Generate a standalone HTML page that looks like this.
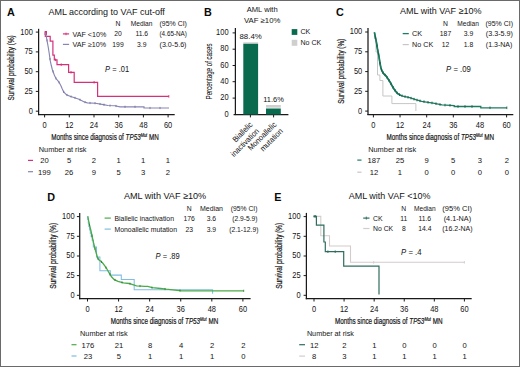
<!DOCTYPE html>
<html><head><meta charset="utf-8"><title>Figure</title>
<style>
html,body{margin:0;padding:0;background:#fff;overflow:hidden;}
svg{display:block;}
text{font-family:"Liberation Sans", sans-serif;stroke:#141414;stroke-width:0.0px;}
</style></head>
<body>
<svg fill="#141414" width="520" height="367" viewBox="0 0 520 367">
<rect x="0" y="0" width="520" height="367" fill="#fff"/>
<text x="6.90" y="16.00" font-size="10.8" font-weight="bold" fill="#0a0a0a">A</text>
<text x="48.40" y="14.60" font-size="9.2" textLength="116.40" lengthAdjust="spacingAndGlyphs">AML according to VAF cut-off</text>
<text x="118.00" y="25.95" font-size="7.0" text-anchor="middle" textLength="4.90" lengthAdjust="spacingAndGlyphs">N</text>
<text x="130.75" y="25.95" font-size="7.0" textLength="21.75" lengthAdjust="spacingAndGlyphs">Median</text>
<text x="159.50" y="25.95" font-size="7.0" textLength="27.40" lengthAdjust="spacingAndGlyphs">(95% CI)</text>
<line x1="62.90" y1="33.90" x2="69.10" y2="33.90" stroke="#d4317a" stroke-width="1.2" />
<line x1="66.00" y1="32.60" x2="66.00" y2="35.20" stroke="#d4317a" stroke-width="0.9" />
<text x="72.50" y="36.60" font-size="7.0" textLength="33.75" lengthAdjust="spacingAndGlyphs">VAF &lt;10%</text>
<text x="118.00" y="36.45" font-size="7.0" text-anchor="middle" textLength="7.55" lengthAdjust="spacingAndGlyphs">20</text>
<text x="141.75" y="36.45" font-size="7.0" text-anchor="middle" textLength="12.71" lengthAdjust="spacingAndGlyphs">11.6</text>
<text x="159.50" y="36.45" font-size="7.0" textLength="27.40" lengthAdjust="spacingAndGlyphs">(4.65-NA)</text>
<line x1="62.90" y1="44.40" x2="69.10" y2="44.40" stroke="#8785b2" stroke-width="1.2" />
<text x="72.50" y="47.10" font-size="7.0" textLength="33.75" lengthAdjust="spacingAndGlyphs">VAF ≥10%</text>
<text x="118.00" y="46.95" font-size="7.0" text-anchor="middle" textLength="11.33" lengthAdjust="spacingAndGlyphs">199</text>
<text x="141.75" y="46.95" font-size="7.0" text-anchor="middle" textLength="9.44" lengthAdjust="spacingAndGlyphs">3.9</text>
<text x="159.50" y="46.95" font-size="7.0" textLength="27.00" lengthAdjust="spacingAndGlyphs">(3.0-5.6)</text>
<text transform="translate(11.20,67.90) rotate(-90)" x="0" y="3.10" font-size="8.6" text-anchor="middle" textLength="65.30" lengthAdjust="spacingAndGlyphs" style="stroke-width:0.2px">Survival probability (%)</text>
<line x1="38.60" y1="28.80" x2="38.60" y2="115.12" stroke="#1a1a1a" stroke-width="1.25" />
<line x1="37.98" y1="114.50" x2="174.70" y2="114.50" stroke="#1a1a1a" stroke-width="1.25" />
<line x1="35.80" y1="32.10" x2="38.60" y2="32.10" stroke="#1a1a1a" stroke-width="1.0" />
<text x="32.80" y="34.50" font-size="8.5" text-anchor="end" textLength="12.48" lengthAdjust="spacingAndGlyphs">100</text>
<line x1="35.80" y1="51.90" x2="38.60" y2="51.90" stroke="#1a1a1a" stroke-width="1.0" />
<text x="32.80" y="54.30" font-size="8.5" text-anchor="end" textLength="8.32" lengthAdjust="spacingAndGlyphs">75</text>
<line x1="35.80" y1="71.70" x2="38.60" y2="71.70" stroke="#1a1a1a" stroke-width="1.0" />
<text x="32.80" y="74.10" font-size="8.5" text-anchor="end" textLength="8.32" lengthAdjust="spacingAndGlyphs">50</text>
<line x1="35.80" y1="91.40" x2="38.60" y2="91.40" stroke="#1a1a1a" stroke-width="1.0" />
<text x="32.80" y="93.80" font-size="8.5" text-anchor="end" textLength="8.32" lengthAdjust="spacingAndGlyphs">25</text>
<line x1="35.80" y1="111.20" x2="38.60" y2="111.20" stroke="#1a1a1a" stroke-width="1.0" />
<text x="32.80" y="113.60" font-size="8.5" text-anchor="end" textLength="4.16" lengthAdjust="spacingAndGlyphs">0</text>
<line x1="44.60" y1="114.50" x2="44.60" y2="117.40" stroke="#1a1a1a" stroke-width="1.0" />
<text x="44.60" y="127.70" font-size="8.5" text-anchor="middle" textLength="4.16" lengthAdjust="spacingAndGlyphs">0</text>
<line x1="69.30" y1="114.50" x2="69.30" y2="117.40" stroke="#1a1a1a" stroke-width="1.0" />
<text x="69.30" y="127.70" font-size="8.5" text-anchor="middle" textLength="8.32" lengthAdjust="spacingAndGlyphs">12</text>
<line x1="94.00" y1="114.50" x2="94.00" y2="117.40" stroke="#1a1a1a" stroke-width="1.0" />
<text x="94.00" y="127.70" font-size="8.5" text-anchor="middle" textLength="8.32" lengthAdjust="spacingAndGlyphs">24</text>
<line x1="118.70" y1="114.50" x2="118.70" y2="117.40" stroke="#1a1a1a" stroke-width="1.0" />
<text x="118.70" y="127.70" font-size="8.5" text-anchor="middle" textLength="8.32" lengthAdjust="spacingAndGlyphs">36</text>
<line x1="143.40" y1="114.50" x2="143.40" y2="117.40" stroke="#1a1a1a" stroke-width="1.0" />
<text x="143.40" y="127.70" font-size="8.5" text-anchor="middle" textLength="8.32" lengthAdjust="spacingAndGlyphs">48</text>
<line x1="168.10" y1="114.50" x2="168.10" y2="117.40" stroke="#1a1a1a" stroke-width="1.0" />
<text x="168.10" y="127.70" font-size="8.5" text-anchor="middle" textLength="8.32" lengthAdjust="spacingAndGlyphs">60</text>
<text x="51.25" y="140.00" font-size="8.6" textLength="107.50" lengthAdjust="spacingAndGlyphs" style="stroke-width:0.2px">Months since diagnosis of <tspan font-style="italic">TP53</tspan><tspan font-style="italic" font-size="5.33" dy="-3.2">Mut</tspan><tspan dy="3.2"> MN</tspan></text>
<text x="105.10" y="71.80" font-size="8.5" textLength="24.00" lengthAdjust="spacingAndGlyphs"><tspan font-style="italic">P</tspan> = .01</text>
<path d="M45.3,32.2 V36.4 H50.2 V41.2 H52.9 V55.2 H54.3 V59.8 H57 V64.7 H68.6 V72.3 H74.2 V82.3 H97.6 V96.4 H168.8" fill="none" stroke="#d4317a" stroke-width="1.2" />
<rect x="44.60" y="31.00" width="2.40" height="4.00" fill="#d4317a"/>
<path d="M45.50,32.50 L46.20,36.00 L47.20,41.50 L48.30,47.50 L49.30,54.00 L50.20,60.50 L51.30,65.50 L52.30,69.50 L53.40,72.50 L54.50,75.60 L56.00,78.50 L58.40,81.30 L60.00,84.00 L60.80,85.50 L62.30,89.00 L63.70,91.90 L66.50,94.80 L70.00,96.20 L74.60,97.70 L79.00,99.30 L83.80,101.70 L87.30,102.90 L95.40,103.20 L103.40,104.60 L108.00,105.50 L115.00,105.80 L120.00,106.80 L144.00,106.80 L144.00,108.00 L169.00,108.00" fill="none" stroke="#8785b2" stroke-width="1.15" />
<line x1="47.00" y1="39.30" x2="47.00" y2="41.50" stroke="#6e6c9c" stroke-width="0.8" />
<line x1="50.00" y1="57.96" x2="50.00" y2="60.16" stroke="#6e6c9c" stroke-width="0.8" />
<line x1="53.00" y1="70.31" x2="53.00" y2="72.51" stroke="#6e6c9c" stroke-width="0.8" />
<line x1="56.00" y1="77.40" x2="56.00" y2="79.60" stroke="#6e6c9c" stroke-width="0.8" />
<line x1="59.00" y1="81.21" x2="59.00" y2="83.41" stroke="#6e6c9c" stroke-width="0.8" />
<line x1="63.70" y1="90.80" x2="63.70" y2="93.00" stroke="#6e6c9c" stroke-width="0.8" />
<line x1="67.00" y1="93.90" x2="67.00" y2="96.10" stroke="#6e6c9c" stroke-width="0.8" />
<line x1="71.00" y1="95.43" x2="71.00" y2="97.63" stroke="#6e6c9c" stroke-width="0.8" />
<line x1="75.00" y1="96.75" x2="75.00" y2="98.95" stroke="#6e6c9c" stroke-width="0.8" />
<line x1="80.00" y1="98.70" x2="80.00" y2="100.90" stroke="#6e6c9c" stroke-width="0.8" />
<line x1="85.00" y1="101.01" x2="85.00" y2="103.21" stroke="#6e6c9c" stroke-width="0.8" />
<line x1="90.00" y1="101.90" x2="90.00" y2="104.10" stroke="#6e6c9c" stroke-width="0.8" />
<line x1="95.00" y1="102.09" x2="95.00" y2="104.29" stroke="#6e6c9c" stroke-width="0.8" />
<line x1="100.00" y1="102.91" x2="100.00" y2="105.10" stroke="#6e6c9c" stroke-width="0.8" />
<line x1="104.00" y1="103.62" x2="104.00" y2="105.82" stroke="#6e6c9c" stroke-width="0.8" />
<line x1="110.00" y1="104.49" x2="110.00" y2="106.69" stroke="#6e6c9c" stroke-width="0.8" />
<line x1="116.00" y1="104.90" x2="116.00" y2="107.10" stroke="#6e6c9c" stroke-width="0.8" />
<line x1="125.00" y1="105.70" x2="125.00" y2="107.90" stroke="#6e6c9c" stroke-width="0.8" />
<line x1="135.00" y1="105.70" x2="135.00" y2="107.90" stroke="#6e6c9c" stroke-width="0.8" />
<line x1="150.00" y1="106.90" x2="150.00" y2="109.10" stroke="#6e6c9c" stroke-width="0.8" />
<line x1="160.00" y1="106.90" x2="160.00" y2="109.10" stroke="#6e6c9c" stroke-width="0.8" />
<line x1="61.20" y1="63.40" x2="61.20" y2="66.00" stroke="#d4317a" stroke-width="0.9" />
<line x1="71.00" y1="71.00" x2="71.00" y2="73.60" stroke="#d4317a" stroke-width="0.9" />
<line x1="94.10" y1="81.00" x2="94.10" y2="83.60" stroke="#d4317a" stroke-width="0.9" />
<line x1="168.80" y1="95.10" x2="168.80" y2="97.70" stroke="#d4317a" stroke-width="0.9" />
<line x1="55.50" y1="58.50" x2="55.50" y2="61.10" stroke="#d4317a" stroke-width="0.9" />
<text x="38.80" y="151.90" font-size="7.4" textLength="47.70" lengthAdjust="spacingAndGlyphs">Number at risk</text>
<line x1="28.00" y1="160.40" x2="33.00" y2="160.40" stroke="#d4317a" stroke-width="1.2" />
<text x="44.40" y="163.20" font-size="7.8" text-anchor="middle" textLength="8.50" lengthAdjust="spacingAndGlyphs">20</text>
<text x="69.10" y="163.20" font-size="7.8" text-anchor="middle" textLength="4.25" lengthAdjust="spacingAndGlyphs">5</text>
<text x="93.80" y="163.20" font-size="7.8" text-anchor="middle" textLength="4.25" lengthAdjust="spacingAndGlyphs">2</text>
<text x="118.50" y="163.20" font-size="7.8" text-anchor="middle" textLength="4.25" lengthAdjust="spacingAndGlyphs">1</text>
<text x="143.20" y="163.20" font-size="7.8" text-anchor="middle" textLength="4.25" lengthAdjust="spacingAndGlyphs">1</text>
<text x="167.90" y="163.20" font-size="7.8" text-anchor="middle" textLength="4.25" lengthAdjust="spacingAndGlyphs">1</text>
<line x1="28.00" y1="171.70" x2="33.00" y2="171.70" stroke="#8785b2" stroke-width="1.2" />
<text x="44.40" y="174.50" font-size="7.8" text-anchor="middle" textLength="12.75" lengthAdjust="spacingAndGlyphs">199</text>
<text x="69.10" y="174.50" font-size="7.8" text-anchor="middle" textLength="8.50" lengthAdjust="spacingAndGlyphs">26</text>
<text x="93.80" y="174.50" font-size="7.8" text-anchor="middle" textLength="4.25" lengthAdjust="spacingAndGlyphs">9</text>
<text x="118.50" y="174.50" font-size="7.8" text-anchor="middle" textLength="4.25" lengthAdjust="spacingAndGlyphs">5</text>
<text x="143.20" y="174.50" font-size="7.8" text-anchor="middle" textLength="4.25" lengthAdjust="spacingAndGlyphs">3</text>
<text x="167.90" y="174.50" font-size="7.8" text-anchor="middle" textLength="4.25" lengthAdjust="spacingAndGlyphs">2</text>
<text x="204.00" y="16.10" font-size="10.8" font-weight="bold" fill="#0a0a0a">B</text>
<text x="246.70" y="12.40" font-size="7.6" textLength="31.00" lengthAdjust="spacingAndGlyphs">AML with</text>
<text x="243.90" y="22.80" font-size="7.6" textLength="36.50" lengthAdjust="spacingAndGlyphs">VAF ≥10%</text>
<text transform="translate(209.00,71.40) rotate(-90)" x="0" y="3.10" font-size="8.6" text-anchor="middle" textLength="56.00" lengthAdjust="spacingAndGlyphs" style="stroke-width:0.05px">Percentage of cases</text>
<line x1="235.40" y1="28.00" x2="235.40" y2="115.10" stroke="#1a1a1a" stroke-width="1.25" />
<line x1="233.60" y1="114.50" x2="288.40" y2="114.50" stroke="#1a1a1a" stroke-width="1.25" />
<line x1="232.60" y1="32.90" x2="235.40" y2="32.90" stroke="#1a1a1a" stroke-width="1.0" />
<text x="228.60" y="35.00" font-size="8.5" text-anchor="end" textLength="12.48" lengthAdjust="spacingAndGlyphs">100</text>
<line x1="232.60" y1="49.20" x2="235.40" y2="49.20" stroke="#1a1a1a" stroke-width="1.0" />
<text x="228.60" y="51.30" font-size="8.5" text-anchor="end" textLength="8.32" lengthAdjust="spacingAndGlyphs">80</text>
<line x1="232.60" y1="65.50" x2="235.40" y2="65.50" stroke="#1a1a1a" stroke-width="1.0" />
<text x="228.60" y="67.60" font-size="8.5" text-anchor="end" textLength="8.32" lengthAdjust="spacingAndGlyphs">60</text>
<line x1="232.60" y1="81.70" x2="235.40" y2="81.70" stroke="#1a1a1a" stroke-width="1.0" />
<text x="228.60" y="83.80" font-size="8.5" text-anchor="end" textLength="8.32" lengthAdjust="spacingAndGlyphs">40</text>
<line x1="232.60" y1="98.10" x2="235.40" y2="98.10" stroke="#1a1a1a" stroke-width="1.0" />
<text x="228.60" y="100.20" font-size="8.5" text-anchor="end" textLength="8.32" lengthAdjust="spacingAndGlyphs">20</text>
<text x="228.60" y="116.60" font-size="8.5" text-anchor="end" textLength="4.16" lengthAdjust="spacingAndGlyphs">0</text>
<line x1="250.40" y1="114.50" x2="250.40" y2="117.40" stroke="#1a1a1a" stroke-width="1.0" />
<line x1="273.60" y1="114.50" x2="273.60" y2="117.40" stroke="#1a1a1a" stroke-width="1.0" />
<rect x="243.30" y="42.30" width="14.80" height="1.50" fill="#cfcfcf"/>
<rect x="243.30" y="43.80" width="14.80" height="70.70" fill="#0a6a4d"/>
<rect x="266.00" y="105.00" width="14.80" height="2.70" fill="#cfcfcf"/>
<rect x="266.00" y="108.50" width="14.80" height="6.00" fill="#0a6a4d"/>
<text x="239.50" y="38.80" font-size="7.6" textLength="22.30" lengthAdjust="spacingAndGlyphs">88.4%</text>
<text x="263.20" y="101.80" font-size="7.8" textLength="20.60" lengthAdjust="spacingAndGlyphs">11.6%</text>
<rect x="291.70" y="29.10" width="5.60" height="5.80" fill="#0a6a4d"/>
<text x="300.40" y="34.10" font-size="7.0" textLength="9.90" lengthAdjust="spacingAndGlyphs">CK</text>
<rect x="291.70" y="39.80" width="5.60" height="6.00" fill="#cfcfcf"/>
<text x="300.40" y="44.90" font-size="7.0" textLength="20.80" lengthAdjust="spacingAndGlyphs">No CK</text>
<text transform="translate(253.20,125.10) rotate(-45)" x="0" y="0" font-size="8.0" text-anchor="end" textLength="24.80" lengthAdjust="spacingAndGlyphs">Biallelic</text>
<text transform="translate(259.60,131.60) rotate(-45)" x="0" y="0" font-size="8.0" text-anchor="end" textLength="36.20" lengthAdjust="spacingAndGlyphs">inactivation</text>
<text transform="translate(277.00,125.10) rotate(-45)" x="0" y="0" font-size="8.0" text-anchor="end" textLength="36.80" lengthAdjust="spacingAndGlyphs">Monoallelic</text>
<text transform="translate(283.40,131.60) rotate(-45)" x="0" y="0" font-size="8.0" text-anchor="end" textLength="28.60" lengthAdjust="spacingAndGlyphs">mutation</text>
<text x="336.00" y="15.90" font-size="10.8" font-weight="bold" fill="#0a0a0a">C</text>
<text x="400.00" y="14.30" font-size="9.2" textLength="81.60" lengthAdjust="spacingAndGlyphs">AML with VAF ≥10%</text>
<text x="445.50" y="25.90" font-size="7.0" text-anchor="middle" textLength="4.90" lengthAdjust="spacingAndGlyphs">N</text>
<text x="457.20" y="25.90" font-size="7.0" textLength="21.70" lengthAdjust="spacingAndGlyphs">Median</text>
<text x="485.40" y="25.90" font-size="7.0" textLength="27.70" lengthAdjust="spacingAndGlyphs">(95% CI)</text>
<line x1="402.70" y1="33.60" x2="408.80" y2="33.60" stroke="#1f7a62" stroke-width="1.3" />
<text x="412.10" y="36.00" font-size="7.0" textLength="10.10" lengthAdjust="spacingAndGlyphs">CK</text>
<text x="445.50" y="35.80" font-size="7.0" text-anchor="middle" textLength="11.33" lengthAdjust="spacingAndGlyphs">187</text>
<text x="468.50" y="35.80" font-size="7.0" text-anchor="middle" textLength="9.44" lengthAdjust="spacingAndGlyphs">3.9</text>
<text x="485.80" y="35.80" font-size="7.0" textLength="27.20" lengthAdjust="spacingAndGlyphs">(3.3-5.9)</text>
<line x1="402.70" y1="44.60" x2="408.80" y2="44.60" stroke="#c6c6c6" stroke-width="1.2" />
<text x="412.10" y="47.00" font-size="7.0" textLength="21.10" lengthAdjust="spacingAndGlyphs">No CK</text>
<text x="445.50" y="47.30" font-size="7.0" text-anchor="middle" textLength="7.55" lengthAdjust="spacingAndGlyphs">12</text>
<text x="468.50" y="47.30" font-size="7.0" text-anchor="middle" textLength="9.44" lengthAdjust="spacingAndGlyphs">1.8</text>
<text x="485.80" y="47.30" font-size="7.0" textLength="26.60" lengthAdjust="spacingAndGlyphs">(1.3-NA)</text>
<text transform="translate(341.10,71.25) rotate(-90)" x="0" y="3.10" font-size="8.6" text-anchor="middle" textLength="64.90" lengthAdjust="spacingAndGlyphs" style="stroke-width:0.2px">Survival probability (%)</text>
<line x1="368.00" y1="28.00" x2="368.00" y2="115.12" stroke="#1a1a1a" stroke-width="1.25" />
<line x1="367.38" y1="114.50" x2="513.30" y2="114.50" stroke="#1a1a1a" stroke-width="1.25" />
<line x1="365.20" y1="32.00" x2="368.00" y2="32.00" stroke="#1a1a1a" stroke-width="1.0" />
<text x="362.20" y="34.40" font-size="8.5" text-anchor="end" textLength="12.48" lengthAdjust="spacingAndGlyphs">100</text>
<line x1="365.20" y1="51.80" x2="368.00" y2="51.80" stroke="#1a1a1a" stroke-width="1.0" />
<text x="362.20" y="54.20" font-size="8.5" text-anchor="end" textLength="8.32" lengthAdjust="spacingAndGlyphs">75</text>
<line x1="365.20" y1="71.60" x2="368.00" y2="71.60" stroke="#1a1a1a" stroke-width="1.0" />
<text x="362.20" y="74.00" font-size="8.5" text-anchor="end" textLength="8.32" lengthAdjust="spacingAndGlyphs">50</text>
<line x1="365.20" y1="91.30" x2="368.00" y2="91.30" stroke="#1a1a1a" stroke-width="1.0" />
<text x="362.20" y="93.70" font-size="8.5" text-anchor="end" textLength="8.32" lengthAdjust="spacingAndGlyphs">25</text>
<line x1="365.20" y1="111.10" x2="368.00" y2="111.10" stroke="#1a1a1a" stroke-width="1.0" />
<text x="362.20" y="113.50" font-size="8.5" text-anchor="end" textLength="4.16" lengthAdjust="spacingAndGlyphs">0</text>
<line x1="373.40" y1="114.50" x2="373.40" y2="117.40" stroke="#1a1a1a" stroke-width="1.0" />
<text x="373.40" y="127.70" font-size="8.5" text-anchor="middle" textLength="4.16" lengthAdjust="spacingAndGlyphs">0</text>
<line x1="400.04" y1="114.50" x2="400.04" y2="117.40" stroke="#1a1a1a" stroke-width="1.0" />
<text x="400.04" y="127.70" font-size="8.5" text-anchor="middle" textLength="8.32" lengthAdjust="spacingAndGlyphs">12</text>
<line x1="426.68" y1="114.50" x2="426.68" y2="117.40" stroke="#1a1a1a" stroke-width="1.0" />
<text x="426.68" y="127.70" font-size="8.5" text-anchor="middle" textLength="8.32" lengthAdjust="spacingAndGlyphs">24</text>
<line x1="453.32" y1="114.50" x2="453.32" y2="117.40" stroke="#1a1a1a" stroke-width="1.0" />
<text x="453.32" y="127.70" font-size="8.5" text-anchor="middle" textLength="8.32" lengthAdjust="spacingAndGlyphs">36</text>
<line x1="479.96" y1="114.50" x2="479.96" y2="117.40" stroke="#1a1a1a" stroke-width="1.0" />
<text x="479.96" y="127.70" font-size="8.5" text-anchor="middle" textLength="8.32" lengthAdjust="spacingAndGlyphs">48</text>
<line x1="506.60" y1="114.50" x2="506.60" y2="117.40" stroke="#1a1a1a" stroke-width="1.0" />
<text x="506.60" y="127.70" font-size="8.5" text-anchor="middle" textLength="8.32" lengthAdjust="spacingAndGlyphs">60</text>
<text x="386.50" y="140.20" font-size="8.6" textLength="107.60" lengthAdjust="spacingAndGlyphs" style="stroke-width:0.2px">Months since diagnosis of <tspan font-style="italic">TP53</tspan><tspan font-style="italic" font-size="5.33" dy="-3.2">Mut</tspan><tspan dy="3.2"> MN</tspan></text>
<text x="446.10" y="71.80" font-size="8.5" textLength="24.70" lengthAdjust="spacingAndGlyphs"><tspan font-style="italic">P</tspan> = .09</text>
<path d="M374.5,32.5 V39 H376 V52 H377.5 V75 H379.9 V80.5 H382.9 V96 H391.9 V103.6 H415.9 V111" fill="none" stroke="#c6c6c6" stroke-width="1.0" />
<path d="M374.40,32.30 L376.40,42.10 L377.50,49.00 L378.90,56.00 L379.80,62.00 L380.80,67.50 L381.90,70.80 L383.50,73.50 L385.90,75.80 L387.80,78.50 L389.90,81.80 L391.80,85.30 L393.80,88.70 L395.80,91.50 L397.80,93.70 L400.50,95.30 L403.80,96.30 L409.70,97.70 L415.70,99.70 L421.70,101.30 L428.00,102.30 L433.20,103.10 L442.00,104.90 L454.20,105.60 L454.20,106.50 L480.80,106.50 L480.80,107.80 L506.80,107.80" fill="none" stroke="#1f7a62" stroke-width="1.3" />
<path d="M374.40,32.30 L376.40,42.10 L377.50,49.00 L378.90,56.00 L379.80,62.00 L380.80,67.50 L381.90,70.80 L383.50,73.50 L385.90,75.80 L387.80,78.50 L389.90,81.80 L391.80,85.30 L393.80,88.70 L395.80,91.50 L397.80,93.70 L400.50,95.30" fill="none" stroke="#1f7a62" stroke-width="1.7" />
<line x1="375.50" y1="36.39" x2="375.50" y2="38.99" stroke="#17604b" stroke-width="0.9" />
<line x1="377.00" y1="44.56" x2="377.00" y2="47.16" stroke="#17604b" stroke-width="0.9" />
<line x1="378.50" y1="52.70" x2="378.50" y2="55.30" stroke="#17604b" stroke-width="0.9" />
<line x1="380.00" y1="61.80" x2="380.00" y2="64.40" stroke="#17604b" stroke-width="0.9" />
<line x1="381.50" y1="68.30" x2="381.50" y2="70.90" stroke="#17604b" stroke-width="0.9" />
<line x1="383.00" y1="71.36" x2="383.00" y2="73.96" stroke="#17604b" stroke-width="0.9" />
<line x1="385.00" y1="73.64" x2="385.00" y2="76.24" stroke="#17604b" stroke-width="0.9" />
<line x1="387.00" y1="76.06" x2="387.00" y2="78.66" stroke="#17604b" stroke-width="0.9" />
<line x1="389.00" y1="79.09" x2="389.00" y2="81.69" stroke="#17604b" stroke-width="0.9" />
<line x1="391.00" y1="82.53" x2="391.00" y2="85.13" stroke="#17604b" stroke-width="0.9" />
<line x1="393.00" y1="86.04" x2="393.00" y2="88.64" stroke="#17604b" stroke-width="0.9" />
<line x1="395.00" y1="89.08" x2="395.00" y2="91.68" stroke="#17604b" stroke-width="0.9" />
<line x1="397.00" y1="91.52" x2="397.00" y2="94.12" stroke="#17604b" stroke-width="0.9" />
<line x1="399.50" y1="93.41" x2="399.50" y2="96.01" stroke="#17604b" stroke-width="0.9" />
<line x1="402.00" y1="94.45" x2="402.00" y2="97.05" stroke="#17604b" stroke-width="0.9" />
<line x1="405.00" y1="95.28" x2="405.00" y2="97.88" stroke="#17604b" stroke-width="0.9" />
<line x1="408.00" y1="96.00" x2="408.00" y2="98.60" stroke="#17604b" stroke-width="0.9" />
<line x1="411.00" y1="96.83" x2="411.00" y2="99.43" stroke="#17604b" stroke-width="0.9" />
<line x1="414.00" y1="97.83" x2="414.00" y2="100.43" stroke="#17604b" stroke-width="0.9" />
<line x1="417.00" y1="98.75" x2="417.00" y2="101.35" stroke="#17604b" stroke-width="0.9" />
<line x1="420.00" y1="99.55" x2="420.00" y2="102.15" stroke="#17604b" stroke-width="0.9" />
<line x1="424.00" y1="100.37" x2="424.00" y2="102.97" stroke="#17604b" stroke-width="0.9" />
<line x1="428.00" y1="101.00" x2="428.00" y2="103.60" stroke="#17604b" stroke-width="0.9" />
<line x1="432.00" y1="101.62" x2="432.00" y2="104.22" stroke="#17604b" stroke-width="0.9" />
<line x1="436.00" y1="102.37" x2="436.00" y2="104.97" stroke="#17604b" stroke-width="0.9" />
<line x1="440.00" y1="103.19" x2="440.00" y2="105.79" stroke="#17604b" stroke-width="0.9" />
<line x1="445.00" y1="103.77" x2="445.00" y2="106.37" stroke="#17604b" stroke-width="0.9" />
<line x1="450.00" y1="104.06" x2="450.00" y2="106.66" stroke="#17604b" stroke-width="0.9" />
<line x1="458.00" y1="105.20" x2="458.00" y2="107.80" stroke="#17604b" stroke-width="0.9" />
<line x1="465.00" y1="105.20" x2="465.00" y2="107.80" stroke="#17604b" stroke-width="0.9" />
<line x1="472.00" y1="105.20" x2="472.00" y2="107.80" stroke="#17604b" stroke-width="0.9" />
<line x1="490.00" y1="106.50" x2="490.00" y2="109.10" stroke="#17604b" stroke-width="0.9" />
<line x1="506.80" y1="106.50" x2="506.80" y2="109.10" stroke="#17604b" stroke-width="0.9" />
<text x="368.20" y="151.90" font-size="7.4" textLength="48.00" lengthAdjust="spacingAndGlyphs">Number at risk</text>
<line x1="357.30" y1="160.10" x2="361.50" y2="160.10" stroke="#1f7a62" stroke-width="1.2" />
<text x="373.90" y="162.90" font-size="7.8" text-anchor="middle" textLength="12.75" lengthAdjust="spacingAndGlyphs">187</text>
<text x="399.90" y="162.90" font-size="7.8" text-anchor="middle" textLength="8.50" lengthAdjust="spacingAndGlyphs">25</text>
<text x="426.50" y="162.90" font-size="7.8" text-anchor="middle" textLength="4.25" lengthAdjust="spacingAndGlyphs">9</text>
<text x="453.20" y="162.90" font-size="7.8" text-anchor="middle" textLength="4.25" lengthAdjust="spacingAndGlyphs">5</text>
<text x="479.80" y="162.90" font-size="7.8" text-anchor="middle" textLength="4.25" lengthAdjust="spacingAndGlyphs">3</text>
<text x="506.80" y="162.90" font-size="7.8" text-anchor="middle" textLength="4.25" lengthAdjust="spacingAndGlyphs">2</text>
<line x1="357.30" y1="172.20" x2="361.50" y2="172.20" stroke="#c6c6c6" stroke-width="1.2" />
<text x="373.90" y="175.00" font-size="7.8" text-anchor="middle" textLength="8.50" lengthAdjust="spacingAndGlyphs">12</text>
<text x="399.90" y="175.00" font-size="7.8" text-anchor="middle" textLength="4.25" lengthAdjust="spacingAndGlyphs">1</text>
<text x="426.50" y="175.00" font-size="7.8" text-anchor="middle" textLength="4.25" lengthAdjust="spacingAndGlyphs">0</text>
<text x="453.20" y="175.00" font-size="7.8" text-anchor="middle" textLength="4.25" lengthAdjust="spacingAndGlyphs">0</text>
<text x="479.80" y="175.00" font-size="7.8" text-anchor="middle" textLength="4.25" lengthAdjust="spacingAndGlyphs">0</text>
<text x="506.80" y="175.00" font-size="7.8" text-anchor="middle" textLength="4.25" lengthAdjust="spacingAndGlyphs">0</text>
<text x="47.30" y="200.60" font-size="10.8" font-weight="bold" fill="#0a0a0a">D</text>
<text x="123.90" y="198.70" font-size="9.2" textLength="82.30" lengthAdjust="spacingAndGlyphs">AML with VAF ≥10%</text>
<text x="189.20" y="210.80" font-size="7.0" text-anchor="middle" textLength="4.90" lengthAdjust="spacingAndGlyphs">N</text>
<text x="200.00" y="210.80" font-size="7.0" textLength="23.00" lengthAdjust="spacingAndGlyphs">Median</text>
<text x="230.80" y="210.80" font-size="7.0" textLength="26.70" lengthAdjust="spacingAndGlyphs">(95% CI)</text>
<line x1="104.60" y1="218.10" x2="110.80" y2="218.10" stroke="#4aab48" stroke-width="1.2" />
<text x="114.50" y="220.70" font-size="7.0" textLength="59.50" lengthAdjust="spacingAndGlyphs">Biallelic inactivation</text>
<text x="189.20" y="220.70" font-size="7.0" text-anchor="middle" textLength="11.33" lengthAdjust="spacingAndGlyphs">176</text>
<text x="211.40" y="220.70" font-size="7.0" text-anchor="middle" textLength="9.44" lengthAdjust="spacingAndGlyphs">3.6</text>
<text x="232.30" y="220.70" font-size="7.0" textLength="25.20" lengthAdjust="spacingAndGlyphs">(2.9-5.9)</text>
<line x1="104.60" y1="229.10" x2="110.80" y2="229.10" stroke="#7fbde2" stroke-width="1.2" />
<text x="114.50" y="231.50" font-size="7.0" textLength="62.50" lengthAdjust="spacingAndGlyphs">Monoallelic mutation</text>
<text x="189.20" y="231.50" font-size="7.0" text-anchor="middle" textLength="7.55" lengthAdjust="spacingAndGlyphs">23</text>
<text x="211.40" y="231.50" font-size="7.0" text-anchor="middle" textLength="9.44" lengthAdjust="spacingAndGlyphs">3.9</text>
<text x="229.20" y="231.50" font-size="7.0" textLength="29.30" lengthAdjust="spacingAndGlyphs">(2.1-12.9)</text>
<text transform="translate(52.60,255.75) rotate(-90)" x="0" y="3.10" font-size="8.6" text-anchor="middle" textLength="65.90" lengthAdjust="spacingAndGlyphs" style="stroke-width:0.2px">Survival probability (%)</text>
<line x1="79.70" y1="212.90" x2="79.70" y2="299.23" stroke="#1a1a1a" stroke-width="1.25" />
<line x1="79.08" y1="298.60" x2="250.60" y2="298.60" stroke="#1a1a1a" stroke-width="1.25" />
<line x1="76.90" y1="216.60" x2="79.70" y2="216.60" stroke="#1a1a1a" stroke-width="1.0" />
<text x="74.60" y="219.00" font-size="8.5" text-anchor="end" textLength="12.48" lengthAdjust="spacingAndGlyphs">100</text>
<line x1="76.90" y1="236.30" x2="79.70" y2="236.30" stroke="#1a1a1a" stroke-width="1.0" />
<text x="74.60" y="238.70" font-size="8.5" text-anchor="end" textLength="8.32" lengthAdjust="spacingAndGlyphs">75</text>
<line x1="76.90" y1="256.00" x2="79.70" y2="256.00" stroke="#1a1a1a" stroke-width="1.0" />
<text x="74.60" y="258.40" font-size="8.5" text-anchor="end" textLength="8.32" lengthAdjust="spacingAndGlyphs">50</text>
<line x1="76.90" y1="275.60" x2="79.70" y2="275.60" stroke="#1a1a1a" stroke-width="1.0" />
<text x="74.60" y="278.00" font-size="8.5" text-anchor="end" textLength="8.32" lengthAdjust="spacingAndGlyphs">25</text>
<line x1="76.90" y1="295.30" x2="79.70" y2="295.30" stroke="#1a1a1a" stroke-width="1.0" />
<text x="74.60" y="297.70" font-size="8.5" text-anchor="end" textLength="4.16" lengthAdjust="spacingAndGlyphs">0</text>
<line x1="87.50" y1="298.60" x2="87.50" y2="301.50" stroke="#1a1a1a" stroke-width="1.0" />
<text x="87.50" y="311.80" font-size="8.5" text-anchor="middle" textLength="4.16" lengthAdjust="spacingAndGlyphs">0</text>
<line x1="118.58" y1="298.60" x2="118.58" y2="301.50" stroke="#1a1a1a" stroke-width="1.0" />
<text x="118.58" y="311.80" font-size="8.5" text-anchor="middle" textLength="8.32" lengthAdjust="spacingAndGlyphs">12</text>
<line x1="149.66" y1="298.60" x2="149.66" y2="301.50" stroke="#1a1a1a" stroke-width="1.0" />
<text x="149.66" y="311.80" font-size="8.5" text-anchor="middle" textLength="8.32" lengthAdjust="spacingAndGlyphs">24</text>
<line x1="180.74" y1="298.60" x2="180.74" y2="301.50" stroke="#1a1a1a" stroke-width="1.0" />
<text x="180.74" y="311.80" font-size="8.5" text-anchor="middle" textLength="8.32" lengthAdjust="spacingAndGlyphs">36</text>
<line x1="211.82" y1="298.60" x2="211.82" y2="301.50" stroke="#1a1a1a" stroke-width="1.0" />
<text x="211.82" y="311.80" font-size="8.5" text-anchor="middle" textLength="8.32" lengthAdjust="spacingAndGlyphs">48</text>
<line x1="242.90" y1="298.60" x2="242.90" y2="301.50" stroke="#1a1a1a" stroke-width="1.0" />
<text x="242.90" y="311.80" font-size="8.5" text-anchor="middle" textLength="8.32" lengthAdjust="spacingAndGlyphs">60</text>
<text x="110.80" y="324.00" font-size="8.6" textLength="107.40" lengthAdjust="spacingAndGlyphs" style="stroke-width:0.2px">Months since diagnosis of <tspan font-style="italic">TP53</tspan><tspan font-style="italic" font-size="5.33" dy="-3.2">Mut</tspan><tspan dy="3.2"> MN</tspan></text>
<text x="155.60" y="258.80" font-size="8.5" textLength="24.20" lengthAdjust="spacingAndGlyphs"><tspan font-style="italic">P</tspan> = .89</text>
<path d="M87.8,216.1 V219.5 H88.3 V223 H88.9 V226.4 H89.6 V229.9 H90.3 V233.3 H91.2 V236.8 H92.2 V240.2 H93.3 V247 H96.5 V257 H99.9 V270.8 H110.3 V275.1 H121.3 V279.4 H134.2 V289.8 H212.6 V293.7" fill="none" stroke="#7fbde2" stroke-width="1.05" />
<path d="M87.80,216.30 L88.50,220.00 L89.50,225.00 L90.90,230.50 L92.50,238.00 L93.60,243.00 L95.20,249.50 L96.50,254.00 L97.50,257.50 L98.50,259.50 L100.50,261.00 L102.50,262.80 L104.80,265.90 L106.80,268.80 L108.70,272.20 L111.50,276.80 L114.30,279.60 L118.00,281.40 L123.50,282.80 L129.10,283.50 L132.80,284.70 L136.50,285.90 L145.00,286.30 L147.70,286.40 L152.30,287.70 L160.80,288.50 L166.20,289.20 L181.50,290.80 L243.70,290.80" fill="none" stroke="#4aab48" stroke-width="1.3" />
<line x1="89.50" y1="223.90" x2="89.50" y2="226.10" stroke="#2c7a30" stroke-width="0.8" />
<line x1="92.00" y1="234.56" x2="92.00" y2="236.76" stroke="#2c7a30" stroke-width="0.8" />
<line x1="95.00" y1="247.59" x2="95.00" y2="249.79" stroke="#2c7a30" stroke-width="0.8" />
<line x1="98.00" y1="257.40" x2="98.00" y2="259.60" stroke="#2c7a30" stroke-width="0.8" />
<line x1="101.50" y1="260.80" x2="101.50" y2="263.00" stroke="#2c7a30" stroke-width="0.8" />
<line x1="106.00" y1="266.54" x2="106.00" y2="268.74" stroke="#2c7a30" stroke-width="0.8" />
<line x1="110.00" y1="273.24" x2="110.00" y2="275.44" stroke="#2c7a30" stroke-width="0.8" />
<line x1="115.00" y1="278.84" x2="115.00" y2="281.04" stroke="#2c7a30" stroke-width="0.8" />
<line x1="122.00" y1="281.32" x2="122.00" y2="283.52" stroke="#2c7a30" stroke-width="0.8" />
<line x1="130.00" y1="282.69" x2="130.00" y2="284.89" stroke="#2c7a30" stroke-width="0.8" />
<line x1="140.00" y1="284.96" x2="140.00" y2="287.16" stroke="#2c7a30" stroke-width="0.8" />
<line x1="152.00" y1="286.52" x2="152.00" y2="288.72" stroke="#2c7a30" stroke-width="0.8" />
<line x1="165.00" y1="287.94" x2="165.00" y2="290.14" stroke="#2c7a30" stroke-width="0.8" />
<line x1="180.00" y1="289.54" x2="180.00" y2="291.74" stroke="#2c7a30" stroke-width="0.8" />
<line x1="243.70" y1="289.70" x2="243.70" y2="291.90" stroke="#2c7a30" stroke-width="0.8" />
<text x="80.00" y="336.10" font-size="7.4" textLength="47.70" lengthAdjust="spacingAndGlyphs">Number at risk</text>
<line x1="71.50" y1="344.70" x2="76.50" y2="344.70" stroke="#4aab48" stroke-width="1.2" />
<text x="87.90" y="347.50" font-size="7.8" text-anchor="middle" textLength="12.75" lengthAdjust="spacingAndGlyphs">176</text>
<text x="118.98" y="347.50" font-size="7.8" text-anchor="middle" textLength="8.50" lengthAdjust="spacingAndGlyphs">21</text>
<text x="150.06" y="347.50" font-size="7.8" text-anchor="middle" textLength="4.25" lengthAdjust="spacingAndGlyphs">8</text>
<text x="181.14" y="347.50" font-size="7.8" text-anchor="middle" textLength="4.25" lengthAdjust="spacingAndGlyphs">4</text>
<text x="212.22" y="347.50" font-size="7.8" text-anchor="middle" textLength="4.25" lengthAdjust="spacingAndGlyphs">2</text>
<text x="243.30" y="347.50" font-size="7.8" text-anchor="middle" textLength="4.25" lengthAdjust="spacingAndGlyphs">2</text>
<line x1="71.50" y1="356.00" x2="76.50" y2="356.00" stroke="#7fbde2" stroke-width="1.2" />
<text x="87.90" y="358.80" font-size="7.8" text-anchor="middle" textLength="8.50" lengthAdjust="spacingAndGlyphs">23</text>
<text x="118.98" y="358.80" font-size="7.8" text-anchor="middle" textLength="4.25" lengthAdjust="spacingAndGlyphs">5</text>
<text x="150.06" y="358.80" font-size="7.8" text-anchor="middle" textLength="4.25" lengthAdjust="spacingAndGlyphs">1</text>
<text x="181.14" y="358.80" font-size="7.8" text-anchor="middle" textLength="4.25" lengthAdjust="spacingAndGlyphs">1</text>
<text x="212.22" y="358.80" font-size="7.8" text-anchor="middle" textLength="4.25" lengthAdjust="spacingAndGlyphs">1</text>
<text x="243.30" y="358.80" font-size="7.8" text-anchor="middle" textLength="4.25" lengthAdjust="spacingAndGlyphs">0</text>
<text x="274.20" y="200.50" font-size="10.8" font-weight="bold" fill="#0a0a0a">E</text>
<text x="348.70" y="199.20" font-size="9.2" textLength="81.70" lengthAdjust="spacingAndGlyphs">AML with VAF &lt;10%</text>
<text x="403.80" y="210.60" font-size="7.0" text-anchor="middle" textLength="4.90" lengthAdjust="spacingAndGlyphs">N</text>
<text x="414.00" y="210.60" font-size="7.0" textLength="21.60" lengthAdjust="spacingAndGlyphs">Median</text>
<text x="442.30" y="210.60" font-size="7.0" textLength="29.70" lengthAdjust="spacingAndGlyphs">(95% CI)</text>
<line x1="363.20" y1="218.10" x2="369.50" y2="218.10" stroke="#2f6d5f" stroke-width="1.2" />
<line x1="366.30" y1="216.60" x2="366.30" y2="219.60" stroke="#2f6d5f" stroke-width="0.9" />
<text x="373.00" y="220.80" font-size="7.0" textLength="9.60" lengthAdjust="spacingAndGlyphs">CK</text>
<text x="403.80" y="220.50" font-size="7.0" text-anchor="middle" textLength="7.05" lengthAdjust="spacingAndGlyphs">11</text>
<text x="424.80" y="220.50" font-size="7.0" text-anchor="middle" textLength="12.71" lengthAdjust="spacingAndGlyphs">11.6</text>
<text x="443.70" y="220.50" font-size="7.0" textLength="27.40" lengthAdjust="spacingAndGlyphs">(4.1-NA)</text>
<line x1="363.20" y1="228.50" x2="369.50" y2="228.50" stroke="#d4cccc" stroke-width="1.2" />
<text x="373.00" y="231.10" font-size="7.0" textLength="20.20" lengthAdjust="spacingAndGlyphs">No CK</text>
<text x="403.80" y="230.80" font-size="7.0" text-anchor="middle" textLength="3.78" lengthAdjust="spacingAndGlyphs">8</text>
<text x="424.80" y="230.80" font-size="7.0" text-anchor="middle" textLength="13.22" lengthAdjust="spacingAndGlyphs">14.4</text>
<text x="442.30" y="230.80" font-size="7.0" textLength="30.20" lengthAdjust="spacingAndGlyphs">(16.2-NA)</text>
<text transform="translate(278.80,255.75) rotate(-90)" x="0" y="3.10" font-size="8.6" text-anchor="middle" textLength="65.90" lengthAdjust="spacingAndGlyphs" style="stroke-width:0.2px">Survival probability (%)</text>
<line x1="306.40" y1="212.90" x2="306.40" y2="299.23" stroke="#1a1a1a" stroke-width="1.25" />
<line x1="305.77" y1="298.60" x2="471.70" y2="298.60" stroke="#1a1a1a" stroke-width="1.25" />
<line x1="303.60" y1="216.60" x2="306.40" y2="216.60" stroke="#1a1a1a" stroke-width="1.0" />
<text x="300.60" y="219.00" font-size="8.5" text-anchor="end" textLength="12.48" lengthAdjust="spacingAndGlyphs">100</text>
<line x1="303.60" y1="236.30" x2="306.40" y2="236.30" stroke="#1a1a1a" stroke-width="1.0" />
<text x="300.60" y="238.70" font-size="8.5" text-anchor="end" textLength="8.32" lengthAdjust="spacingAndGlyphs">75</text>
<line x1="303.60" y1="256.00" x2="306.40" y2="256.00" stroke="#1a1a1a" stroke-width="1.0" />
<text x="300.60" y="258.40" font-size="8.5" text-anchor="end" textLength="8.32" lengthAdjust="spacingAndGlyphs">50</text>
<line x1="303.60" y1="275.60" x2="306.40" y2="275.60" stroke="#1a1a1a" stroke-width="1.0" />
<text x="300.60" y="278.00" font-size="8.5" text-anchor="end" textLength="8.32" lengthAdjust="spacingAndGlyphs">25</text>
<line x1="303.60" y1="295.30" x2="306.40" y2="295.30" stroke="#1a1a1a" stroke-width="1.0" />
<text x="300.60" y="297.70" font-size="8.5" text-anchor="end" textLength="4.16" lengthAdjust="spacingAndGlyphs">0</text>
<line x1="314.00" y1="298.60" x2="314.00" y2="301.50" stroke="#1a1a1a" stroke-width="1.0" />
<text x="314.00" y="311.80" font-size="8.5" text-anchor="middle" textLength="4.16" lengthAdjust="spacingAndGlyphs">0</text>
<line x1="344.08" y1="298.60" x2="344.08" y2="301.50" stroke="#1a1a1a" stroke-width="1.0" />
<text x="344.08" y="311.80" font-size="8.5" text-anchor="middle" textLength="8.32" lengthAdjust="spacingAndGlyphs">12</text>
<line x1="374.16" y1="298.60" x2="374.16" y2="301.50" stroke="#1a1a1a" stroke-width="1.0" />
<text x="374.16" y="311.80" font-size="8.5" text-anchor="middle" textLength="8.32" lengthAdjust="spacingAndGlyphs">24</text>
<line x1="404.24" y1="298.60" x2="404.24" y2="301.50" stroke="#1a1a1a" stroke-width="1.0" />
<text x="404.24" y="311.80" font-size="8.5" text-anchor="middle" textLength="8.32" lengthAdjust="spacingAndGlyphs">36</text>
<line x1="434.32" y1="298.60" x2="434.32" y2="301.50" stroke="#1a1a1a" stroke-width="1.0" />
<text x="434.32" y="311.80" font-size="8.5" text-anchor="middle" textLength="8.32" lengthAdjust="spacingAndGlyphs">48</text>
<line x1="464.40" y1="298.60" x2="464.40" y2="301.50" stroke="#1a1a1a" stroke-width="1.0" />
<text x="464.40" y="311.80" font-size="8.5" text-anchor="middle" textLength="8.32" lengthAdjust="spacingAndGlyphs">60</text>
<text x="334.90" y="324.20" font-size="8.6" textLength="107.60" lengthAdjust="spacingAndGlyphs" style="stroke-width:0.2px">Months since diagnosis of <tspan font-style="italic">TP53</tspan><tspan font-style="italic" font-size="5.33" dy="-3.2">Mut</tspan><tspan dy="3.2"> MN</tspan></text>
<text x="401.10" y="255.30" font-size="8.5" textLength="20.40" lengthAdjust="spacingAndGlyphs"><tspan font-style="italic">P</tspan> = .4</text>
<path d="M313.6,216.4 H320.8 V235.8 H329.5 V246 H350.5 V262.3 H464.4" fill="none" stroke="#d4cccc" stroke-width="1.1" />
<line x1="373.70" y1="261.00" x2="373.70" y2="263.60" stroke="#d4cccc" stroke-width="0.9" />
<line x1="464.40" y1="261.00" x2="464.40" y2="263.60" stroke="#d4cccc" stroke-width="0.9" />
<path d="M313.6,216.4 H316.4 V225.2 H323.9 V242 H325.3 V251.7 H343.7 V266.1 H379 V294.6" fill="none" stroke="#2f6d5f" stroke-width="1.2" />
<line x1="314.20" y1="215.10" x2="314.20" y2="217.70" stroke="#2f6d5f" stroke-width="0.9" />
<line x1="315.40" y1="215.10" x2="315.40" y2="217.70" stroke="#2f6d5f" stroke-width="0.9" />
<line x1="327.90" y1="250.40" x2="327.90" y2="253.00" stroke="#2f6d5f" stroke-width="0.9" />
<line x1="335.20" y1="250.40" x2="335.20" y2="253.00" stroke="#2f6d5f" stroke-width="0.9" />
<text x="306.90" y="335.80" font-size="7.4" textLength="47.00" lengthAdjust="spacingAndGlyphs">Number at risk</text>
<line x1="299.20" y1="344.70" x2="305.00" y2="344.70" stroke="#2f6d5f" stroke-width="1.2" />
<text x="314.20" y="347.50" font-size="7.8" text-anchor="middle" textLength="8.50" lengthAdjust="spacingAndGlyphs">12</text>
<text x="344.28" y="347.50" font-size="7.8" text-anchor="middle" textLength="4.25" lengthAdjust="spacingAndGlyphs">2</text>
<text x="374.36" y="347.50" font-size="7.8" text-anchor="middle" textLength="4.25" lengthAdjust="spacingAndGlyphs">1</text>
<text x="404.44" y="347.50" font-size="7.8" text-anchor="middle" textLength="4.25" lengthAdjust="spacingAndGlyphs">0</text>
<text x="434.52" y="347.50" font-size="7.8" text-anchor="middle" textLength="4.25" lengthAdjust="spacingAndGlyphs">0</text>
<text x="464.60" y="347.50" font-size="7.8" text-anchor="middle" textLength="4.25" lengthAdjust="spacingAndGlyphs">0</text>
<line x1="299.20" y1="356.10" x2="305.00" y2="356.10" stroke="#d4cccc" stroke-width="1.2" />
<text x="314.20" y="358.90" font-size="7.8" text-anchor="middle" textLength="4.25" lengthAdjust="spacingAndGlyphs">8</text>
<text x="344.28" y="358.90" font-size="7.8" text-anchor="middle" textLength="4.25" lengthAdjust="spacingAndGlyphs">3</text>
<text x="374.36" y="358.90" font-size="7.8" text-anchor="middle" textLength="4.25" lengthAdjust="spacingAndGlyphs">1</text>
<text x="404.44" y="358.90" font-size="7.8" text-anchor="middle" textLength="4.25" lengthAdjust="spacingAndGlyphs">1</text>
<text x="434.52" y="358.90" font-size="7.8" text-anchor="middle" textLength="4.25" lengthAdjust="spacingAndGlyphs">1</text>
<text x="464.60" y="358.90" font-size="7.8" text-anchor="middle" textLength="4.25" lengthAdjust="spacingAndGlyphs">1</text>
<rect x="0.5" y="0.5" width="519" height="366" fill="none" stroke="#6a6a6a" stroke-width="1"/>
</svg>
</body></html>
